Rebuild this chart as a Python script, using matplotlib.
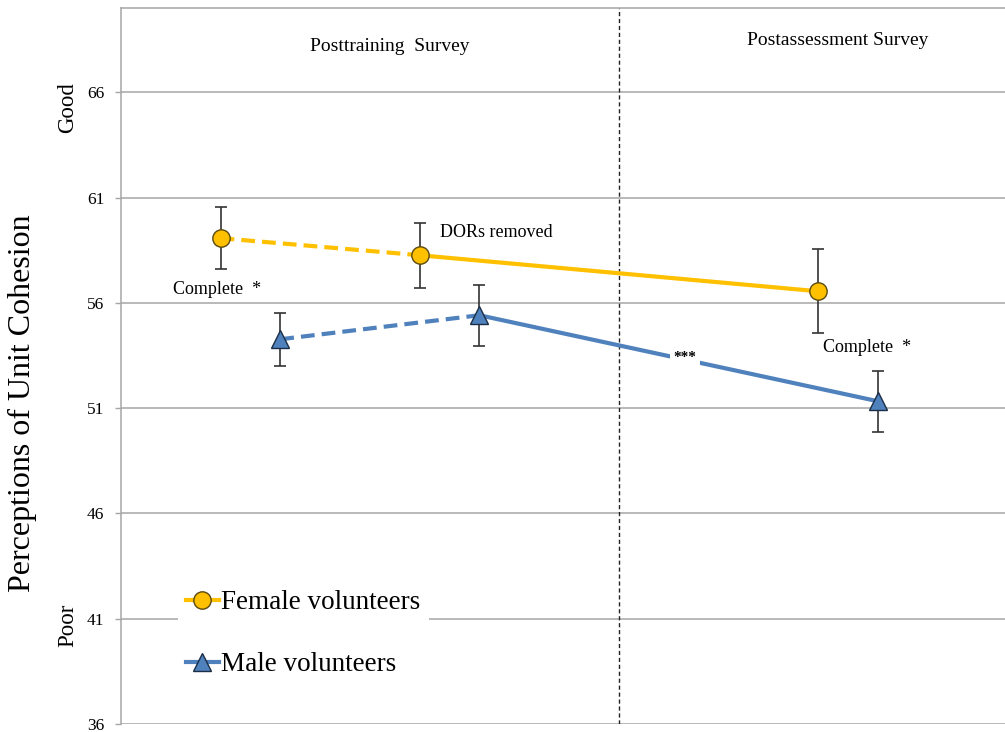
import matplotlib
matplotlib.use("Agg")
from matplotlib import pyplot as plt
from matplotlib.lines import Line2D

plt.rcParams['font.family'] = ['Liberation Serif', 'DejaVu Serif']

# data
female_x = [1.0, 2.0, 4.0]
female_y = [59.07, 58.26, 56.55]
female_err = [1.47, 1.55, 2.0]

male_x = [1.3, 2.3, 4.3]
male_y = [54.27, 55.41, 51.33]
male_err = [1.27, 1.45, 1.45]

yticks = [36, 41, 46, 51, 56, 61, 66]

yellow = "#FFC000"
blue = "#4F81BD"
grid_c = "#A6A6A6"

fig = plt.figure(figsize=(10.05, 7.32), dpi=100)
ax = fig.add_axes([121 / 1005, 8 / 732, 884 / 1005, 716 / 732])
ax.set_xlim(0.5, 4.94)
ax.set_ylim(36, 70)

# grid and frame
for t in yticks:
    ax.axhline(t, color=grid_c, lw=1.1, zorder=0)
ax.set_yticks(yticks)
ax.set_xticks([])
ax.tick_params(axis='y', length=4, width=1, color=grid_c, pad=8, labelsize=12.5)
for s in ['left', 'top']:
    ax.spines[s].set_color(grid_c)
    ax.spines[s].set_linewidth(1.1)
ax.spines['right'].set_visible(False)
ax.spines['bottom'].set_visible(False)

ax.axvline(3.0, color="#222222", lw=1, ls=(0, (3, 2)), zorder=1)

# error bars
ax.errorbar(female_x, female_y, yerr=female_err, fmt='none', ecolor="#333333",
            elinewidth=1.2, capsize=4, capthick=1.2, zorder=2)
ax.errorbar(male_x, male_y, yerr=male_err, fmt='none', ecolor="#333333",
            elinewidth=1.2, capsize=4, capthick=1.2, zorder=2)

# lines: first segment dashed, rest solid
ax.plot(female_x[:2], female_y[:2], color=yellow, lw=3, dashes=(3.3, 1.7), zorder=3)
ax.plot(female_x[1:], female_y[1:], color=yellow, lw=3, zorder=3)
ax.plot(male_x[:2], male_y[:2], color=blue, lw=3, dashes=(3.3, 1.7), zorder=3)
ax.plot(male_x[1:], male_y[1:], color=blue, lw=3, zorder=3)

ax.plot(female_x, female_y, ls='none', marker='o', ms=12.5, mfc=yellow,
        mec="#5a4a10", mew=1, zorder=4)
ax.plot(male_x, male_y, ls='none', marker='^', ms=13, mfc=blue,
        mec="#1c2e45", mew=1, zorder=4)

# annotations
ax.text(1.851, 68.15, "Posttraining  Survey", ha='center', va='center', fontsize=14)
ax.text(4.101, 68.48, "Postassessment Survey", ha='center', va='center', fontsize=14)
ax.text(2.102, 59.32, "DORs removed", ha='left', va='center', fontsize=13)
ax.text(0.761, 56.61, "Complete  *", ha='left', va='center', fontsize=13)
ax.text(4.026, 53.90, "Complete  *", ha='left', va='center', fontsize=13)
ax.text(3.333, 53.38, "***", ha='center', va='center', fontsize=11, fontweight='bold',
        bbox=dict(facecolor='white', edgecolor='none', pad=2.5), zorder=5)

# axis labels
fig.text(22 / 1005, 1 - 403 / 732, "Perceptions of Unit Cohesion", rotation=90,
         ha='center', va='center', fontsize=23)
fig.text(68 / 1005, 1 - 108 / 732, "Good", rotation=90, ha='center', va='center', fontsize=16.5)
fig.text(68 / 1005, 1 - 625 / 732, "Poor", rotation=90, ha='center', va='center', fontsize=16.5)

# legend
handles = [
    Line2D([], [], color=yellow, lw=3, marker='o', ms=12.5, mfc=yellow, mec="#5a4a10"),
    Line2D([], [], color=blue, lw=3, marker='^', ms=13, mfc=blue, mec="#1c2e45"),
]
leg = ax.legend(handles, ["Female volunteers", "Male volunteers"],
                loc='upper left', bbox_to_anchor=(178 / 1005, 1 - 582 / 732),
                bbox_transform=fig.transFigure, fontsize=19.5, frameon=True,
                facecolor='white', edgecolor='none', framealpha=1,
                handlelength=1.2, handletextpad=0.1, labelspacing=1.37,
                borderpad=0.3, borderaxespad=0)
leg.set_zorder(6)

fig.savefig("out.png", dpi=100)
